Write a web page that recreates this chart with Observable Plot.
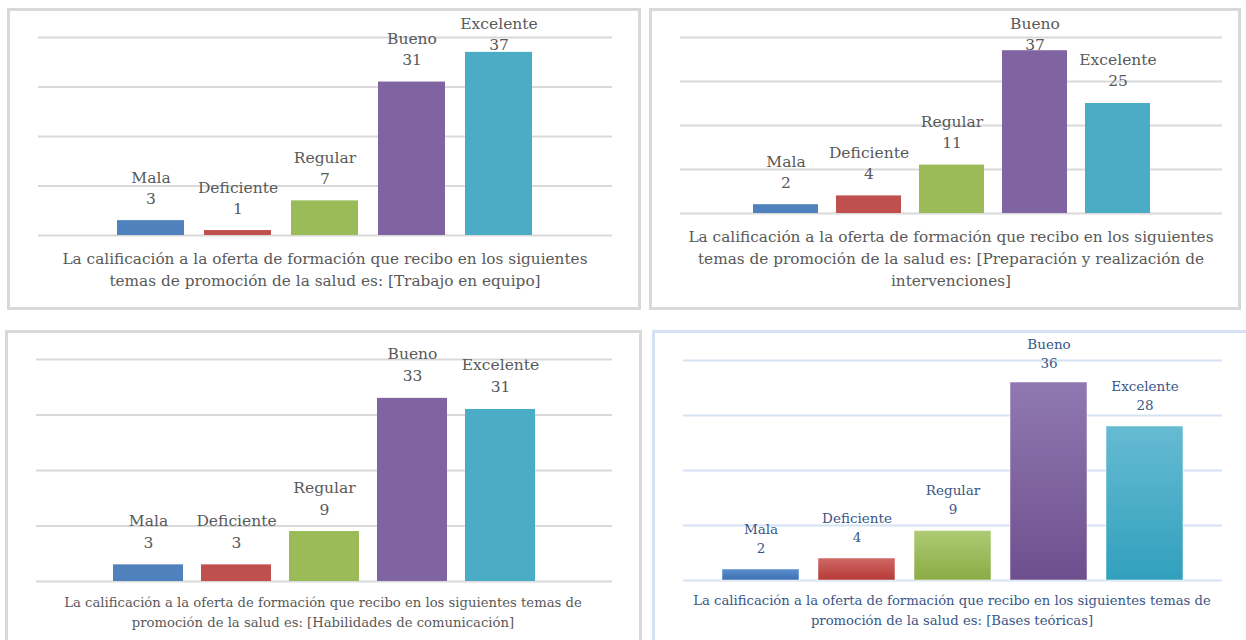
<!DOCTYPE html>
<html><head><meta charset="utf-8">
<script src="https://cdn.jsdelivr.net/npm/d3@7"></script>
<script src="https://cdn.jsdelivr.net/npm/@observablehq/plot@0.6"></script>
<style>
html,body{margin:0;padding:0;background:#fff;}
body{width:1246px;height:640px;overflow:hidden;position:relative;font-family:"DejaVu Serif",serif;}
</style></head><body>
<script>
// ---- data ----
const categories = ["Mala", "Deficiente", "Regular", "Bueno", "Excelente"];
const trabajoEquipo = [3, 1, 7, 31, 37];
const preparacion = [2, 4, 11, 37, 25];
const habilidades = [3, 3, 9, 33, 31];
const basesTeoricas = [2, 4, 9, 36, 28];
const yTicks = [0, 10, 20, 30, 40];
const captionTrabajo = ["La calificación a la oferta de formación que recibo en los siguientes", "temas de promoción de la salud es: [Trabajo en equipo]"];
const captionPreparacion = ["La calificación a la oferta de formación que recibo en los siguientes", "temas de promoción de la salud es: [Preparación y realización de", "intervenciones]"];
const captionHabilidades = ["La calificación a la oferta de formación que recibo en los siguientes temas de", "promoción de la salud es: [Habilidades de comunicación]"];
const captionBases = ["La calificación a la oferta de formación que recibo en los siguientes temas de", "promoción de la salud es: [Bases teóricas]"];

// ---- styles ----
const barColors = ["#4f81bd", "#c0504d", "#9bbb59", "#8064a2", "#4bacc6"];
const gradStops = [["#5b8fd0", "#3d70b2"], ["#d06866", "#b53a37"], ["#aecb74", "#8aab45"], ["#9079b2", "#6e4f8e"], ["#66bbd2", "#31a0bd"]];

const panels = [
  {values: trabajoEquipo, caption: captionTrabajo,
   box: {left: 7, top: 8, width: 634, height: 302, border: "3px solid #d9d9d9"},
   svg: {left: 8, top: 9, width: 632, height: 232, mt: 28, mb: 6, ml: 30, mr: 28},
   pi: 0.227, po: 0.875, fs: 15.5, color: "#595959", nameDy: -43, numDy: -22, minName: 15,
   grid: "#d9d9d9", gradient: false,
   cap: {cx: 325, top: 248, fs: 15.3, lh: 22, color: "#595959"}},
  {values: preparacion, caption: captionPreparacion,
   box: {left: 649, top: 8, width: 592, height: 302, border: "3px solid #d9d9d9"},
   svg: {left: 651, top: 9, width: 588, height: 210, mt: 28, mb: 6, ml: 29, mr: 17},
   pi: 0.222, po: 0.856, fs: 15.5, color: "#595959", nameDy: -43, numDy: -22, minName: 15,
   grid: "#d9d9d9", gradient: false,
   cap: {cx: 951, top: 226, fs: 15.3, lh: 22, color: "#595959"}},
  {values: habilidades, caption: captionHabilidades,
   box: {left: 5, top: 330, width: 637, height: 320, border: "3px solid #d9d9d9"},
   svg: {left: 6, top: 332, width: 634, height: 255, mt: 27, mb: 6, ml: 30, mr: 28},
   pi: 0.206, po: 0.848, fs: 15.5, color: "#595959", nameDy: -44, numDy: -22, minName: 14,
   grid: "#d9d9d9", gradient: false,
   cap: {cx: 323, top: 593, fs: 13.2, lh: 19.5, color: "#595959"}},
  {values: basesTeoricas, caption: captionBases,
   box: {left: 652, top: 330, width: 600, height: 320, border: "3px solid #d5e2f3"},
   svg: {left: 653, top: 332, width: 593, height: 254, mt: 28, mb: 6, ml: 30, mr: 24},
   pi: 0.198, po: 0.406, fs: 13.5, color: "#3a5686", nameDy: -40, numDy: -21, minName: 12,
   grid: "#d5e2f3", gradient: true,
   cap: {cx: 952, top: 591, fs: 13.2, lh: 19.5, color: "#3a5686"}}
];

function gradientDefs() {
  const g = d3.create("svg:g");
  const defs = g.append("defs");
  gradStops.forEach((s, i) => {
    const lg = defs.append("linearGradient").attr("id", "grad-" + i)
      .attr("x1", 0).attr("y1", 0).attr("x2", 0).attr("y2", 1);
    lg.append("stop").attr("offset", "0%").attr("stop-color", s[0]);
    lg.append("stop").attr("offset", "100%").attr("stop-color", s[1]);
  });
  return g.node();
}

panels.forEach((p) => {
  const box = document.createElement("div");
  Object.assign(box.style, {position: "absolute", boxSizing: "border-box", left: p.box.left + "px", top: p.box.top + "px", width: p.box.width + "px", height: p.box.height + "px", border: p.box.border});
  document.body.appendChild(box);

  const data = categories.map((c, i) => ({cat: c, value: p.values[i], fill: p.gradient ? `url(#grad-${i})` : barColors[i]}));
  const s = p.svg;
  const ppu = (s.height - s.mt - s.mb) / 40;
  const capValue = ((s.height - s.mb) - (p.minName - p.nameDy)) / ppu;
  const labelY = d => Math.min(d.value, capValue);

  const marks = [];
  if (p.gradient) marks.push(gradientDefs);
  marks.push(
    Plot.ruleY(yTicks, {stroke: p.grid, strokeWidth: 2}),
    Plot.barY(data, {x: "cat", y: "value", fill: "fill", stroke: p.gradient ? "#ffffff" : "none", strokeOpacity: 0.5, strokeWidth: 1}),
    Plot.text(data, {x: "cat", y: labelY, text: "cat", dy: p.nameDy, fill: p.color, fontSize: p.fs, fontFamily: "DejaVu Serif"}),
    Plot.text(data, {x: "cat", y: labelY, text: d => String(d.value), dy: p.numDy, fill: p.color, fontSize: p.fs, fontFamily: "DejaVu Serif"})
  );

  const chart = Plot.plot({
    width: s.width, height: s.height,
    marginTop: s.mt, marginBottom: s.mb, marginLeft: s.ml, marginRight: s.mr,
    x: {domain: categories, axis: null, paddingInner: p.pi, paddingOuter: p.po},
    y: {domain: [0, 40], axis: null},
    color: {type: "identity"},
    style: {background: "transparent", fontFamily: "DejaVu Serif", overflow: "visible"},
    marks
  });
  const wrap = document.createElement("div");
  Object.assign(wrap.style, {position: "absolute", left: s.left + "px", top: s.top + "px", width: s.width + "px", height: s.height + "px"});
  wrap.appendChild(chart);
  document.body.appendChild(wrap);

  const capDiv = document.createElement("div");
  Object.assign(capDiv.style, {position: "absolute", textAlign: "center", whiteSpace: "nowrap", left: (p.cap.cx - 310) + "px", width: "620px", top: p.cap.top + "px", fontSize: p.cap.fs + "px", lineHeight: p.cap.lh + "px", color: p.cap.color});
  p.caption.forEach(line => {
    const d = document.createElement("div");
    d.textContent = line;
    capDiv.appendChild(d);
  });
  document.body.appendChild(capDiv);
});
</script>
</body></html>
